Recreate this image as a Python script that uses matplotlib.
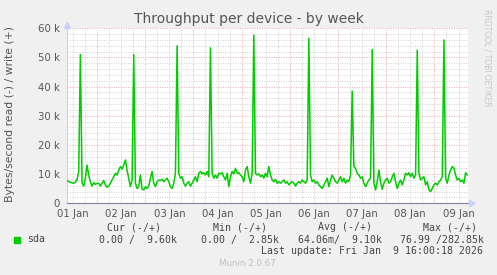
import matplotlib
matplotlib.use('Agg')
import matplotlib.pyplot as plt
import numpy as np

W, H = 497, 275

# sda write throughput (k bytes/s), one sample every ~50 min, starting Jan 1 ~09:00
sda_write = [
    7.8, 7.5, 7.2, 7.0, 6.9, 7.2, 8.2, 10.9, 51.0, 6.9, 5.9, 8.6, 13.1, 9.5, 7.4, 5.9,
    7.1, 6.5, 6.8, 6.9, 5.9, 6.9, 7.8, 6.3, 5.5, 5.9, 6.9, 8.0, 9.1, 10.3, 9.7, 11.4,
    12.6, 11.7, 13.1, 14.9, 11.4, 8.6, 5.7, 8.0, 51.0, 6.9, 5.1, 5.7, 9.7, 4.8, 4.6, 5.7,
    5.1, 5.9, 8.6, 10.9, 6.9, 5.7, 7.4, 8.0, 7.8, 8.2, 7.4, 8.0, 8.6, 7.4, 5.7, 5.1,
    6.9, 10.3, 54.0, 10.3, 8.6, 9.1, 6.9, 5.9, 6.9, 7.4, 5.9, 6.9, 8.0, 9.1, 7.4, 10.3,
    # day 4 - 5
    10.9, 10.1, 10.5, 9.7, 10.9, 9.1, 53.3, 10.3, 8.6, 9.7, 8.6, 10.3, 10.1, 10.5, 9.1, 8.0,
    10.3, 5.7, 9.1, 10.9, 10.1, 12.0, 10.3, 10.5, 9.7, 9.1, 7.4, 11.4, 12.6, 9.1, 6.9, 10.3,
    57.6, 10.3, 9.7, 10.1, 9.1, 9.7, 8.6, 10.3, 9.1, 12.6, 9.7, 8.0, 7.4, 8.2, 6.9, 7.4,
    6.9, 7.4, 8.0, 6.9, 7.4, 6.3, 6.9, 7.4, 6.9, 5.9, 6.9, 7.4, 6.9, 8.0, 7.4, 6.9,
    8.0, 56.6, 9.7, 7.4, 8.0, 6.9, 7.4, 6.3, 5.7, 5.1, 6.3, 7.4, 8.6, 5.7, 8.0, 9.7,
    8.6, 7.4,
    # day 7 - 9
    6.9, 8.0, 9.1, 7.4, 8.6, 6.9, 8.0, 7.4, 9.7, 38.5, 12.6, 12.0, 10.3, 9.7, 8.6, 9.1,
    6.9, 5.7, 6.9, 8.0, 8.6, 52.7, 6.9, 4.6, 7.4, 11.4, 7.4, 4.8, 6.9, 8.0, 8.6, 6.9,
    7.4, 9.1, 10.3, 7.4, 5.1, 6.9, 8.0, 6.3, 8.0, 10.3, 9.7, 10.5, 9.1, 10.3, 8.6, 9.7,
    52.5, 10.3, 8.0, 8.6, 9.1, 6.3, 7.4, 4.6, 4.0, 5.1, 6.3, 6.9, 6.3, 7.4, 8.0, 9.1,
    56.0, 8.6, 6.9, 9.7, 11.4, 12.6, 12.0, 9.7, 8.0, 8.6, 7.4, 8.0, 6.9, 10.5, 9.7,
]
t_start = 0.378   # days since Jan 1 00:00
t_step = 0.0346
day_labels = ['01 Jan', '02 Jan', '03 Jan', '04 Jan', '05 Jan',
              '06 Jan', '07 Jan', '08 Jan', '09 Jan']
y_ticks = [0, 10, 20, 30, 40, 50, 60]
y_labels = ['0', '10 k', '20 k', '30 k', '40 k', '50 k', '60 k']

t = t_start + t_step * np.arange(len(sda_write))
vals = np.array(sda_write) * 1000

fig = plt.figure(figsize=(W / 100, H / 100), dpi=100, facecolor='#f0f0f0')
ax = fig.add_axes([66.7 / W, 1 - 203.3 / H, (468 - 66.7) / W, 175 / H])
ax.set_facecolor('white')
ax.set_xlim(0.371, 8.697)
ax.set_ylim(0, 60000)

# grid: minor grey, major red, dotted
for x in np.arange(0.5, 8.75, 0.25):
    if abs(x - round(x)) > 0.01:
        ax.axvline(x, color='#d0d0d0', lw=0.7, ls=(0, (1, 1.5)), zorder=1)
for y in range(2000, 60001, 2000):
    if y % 10000:
        ax.axhline(y, color='#d0d0d0', lw=0.7, ls=(0, (1, 1.5)), zorder=1)
for x in range(1, 9):
    ax.axvline(x, color='#e8a8a8', lw=0.7, ls=(0, (1, 1.5)), zorder=1)
for y in range(10000, 60001, 10000):
    ax.axhline(y, color='#e8a8a8', lw=0.7, ls=(0, (1, 1.5)), zorder=1)

ax.plot(t, vals, color='#00cc00', lw=1.1, zorder=3)

ax.set_xticks([d + 0.5 for d in range(9)])
ax.set_xticklabels(day_labels)
ax.set_yticks([v * 1000 for v in y_ticks])
ax.set_yticklabels(y_labels)
ax.tick_params(length=0, labelsize=7.3, labelcolor='#555555', pad=5)
ax.tick_params(axis='x', pad=4)

for s in ['top', 'right']:
    ax.spines[s].set_visible(False)
ax.spines['left'].set_color('#c8d0f0')
ax.spines['bottom'].set_color('#8080a0')
ax.spines['left'].set_linewidth(0.8)
ax.spines['bottom'].set_linewidth(0.8)
ax.plot([0.371], [61000], marker='^', color='#c8d0ff', ms=4, clip_on=False, zorder=5)
ax.plot([8.78], [0], marker='>', color='#c8d0ff', ms=4, clip_on=False, zorder=5)

def ftext(x, y, s, **kw):
    fig.text(x / W, 1 - y / H, s, **kw)

ftext(248.5, 19.5, 'Throughput per device - by week', ha='center', va='center',
      fontsize=10, color='#555555')
ftext(10.5, 114.5, 'Bytes/second read (-) / write (+)', ha='center', va='center',
      rotation=90, fontsize=7.8, color='#555555')
ftext(487, 58, 'RRDTOOL / TOBI OETIKER', ha='center', va='center', rotation=270,
      fontsize=5.5, color='#c8c8c8')

mono = dict(family='DejaVu Sans Mono', fontsize=7.1, color='#444444', va='center')
ftext(107, 227.5, 'Cur (-/+)', **mono)
ftext(213.3, 227.5, 'Min (-/+)', **mono)
ftext(318.3, 227.5, 'Avg (-/+)', **mono)
ftext(422.7, 227.5, 'Max (-/+)', **mono)
ftext(26.7, 239.5, 'sda', **mono)
ftext(99.3, 239.5, '0.00 /  9.60k', **mono)
ftext(201.3, 239.5, '0.00 /  2.85k', **mono)
ftext(298.3, 239.5, '64.06m/  9.10k', **mono)
ftext(400, 239.5, '76.99 /282.85k', **mono)
ftext(482.7, 251, 'Last update: Fri Jan  9 16:00:18 2026', ha='right',
      **{k: v for k, v in mono.items()})
ftext(247.5, 264, 'Munin 2.0.67', ha='center', va='center', fontsize=6.3,
      color='#c0c0c0')

fig.patches.append(plt.Rectangle((14 / W, 1 - 242.5 / H), 6 / W, 5.5 / H,
                                 transform=fig.transFigure, color='#00cc00'))

fig.savefig('out.png', dpi=100, facecolor='#f0f0f0')
